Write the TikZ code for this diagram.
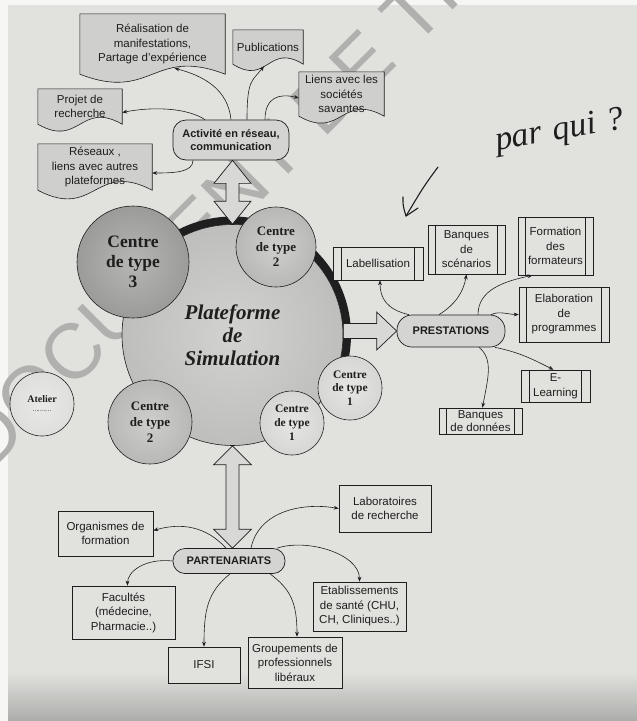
\documentclass[tikz,border=0pt]{standalone}
\usepackage{fontspec}
\setmainfont{Liberation Sans}
\newfontfamily\serifface{Liberation Serif}
\usetikzlibrary{arrows.meta,calc}
\pgfdeclarelayer{pagelayer}
\pgfdeclarelayer{shapelayer}
\pgfsetlayers{pagelayer,shapelayer,main}
\definecolor{paper}{RGB}{225,225,222}
\definecolor{docfill}{RGB}{207,207,205}
\definecolor{pillfill}{RGB}{212,212,210}
\definecolor{arrowfill}{RGB}{216,216,214}
\definecolor{ink}{RGB}{30,30,30}
\definecolor{bigin}{RGB}{210,210,208}
\definecolor{bigout}{RGB}{190,190,188}
\definecolor{cthreein}{RGB}{182,182,180}
\definecolor{cthreeout}{RGB}{155,155,153}
\definecolor{ctwoin}{RGB}{206,206,204}
\definecolor{ctwoout}{RGB}{184,184,182}
\definecolor{conein}{RGB}{230,230,228}
\definecolor{coneout}{RGB}{214,214,212}
\definecolor{atin}{RGB}{233,233,231}
\definecolor{atout}{RGB}{222,222,220}
\definecolor{wm}{RGB}{176,176,174}
\definecolor{bottomgray}{RGB}{172,172,170}
\newcommand\docshape[2]{%
  \path[docsty] (#1.north west) -- (#1.north east) -- (#1.south east)
    .. controls ($(#1.south)+(0,-#2)$) and ($(#1.south)+(0,#2)$) .. (#1.south west) -- cycle;}
\newcommand\barpair[2]{%
  \draw[draw=ink,line width=0.6pt] ([xshift=#2]#1.north west) -- ([xshift=#2]#1.south west)
    ([xshift=-#2]#1.north east) -- ([xshift=-#2]#1.south east);}
\begin{document}
\begin{tikzpicture}[x=1pt,y=-1pt,
  boxtext/.style={font=\fontsize{11.5}{14.5}\selectfont, text=ink, align=center},
  docbox/.style={boxtext, inner sep=0pt},
  rectbox/.style={boxtext, draw=ink, line width=0.6pt, fill=paper, inner sep=0pt},
  pill/.style={draw=ink, line width=0.7pt, fill=pillfill, rounded corners=13pt, inner sep=0pt,
    align=center, text=ink, font=\bfseries\fontsize{11}{13.5}\selectfont},
  circ/.style={circle, draw=ink, line width=0.6pt, inner sep=0pt, align=center, text=ink},
  conn/.style={draw=ink, line width=0.6pt, -{Stealth[length=5pt,width=3.8pt]}},
  bigarrow/.style={draw=ink, line width=0.7pt, fill=arrowfill, line join=miter},
  docsty/.style={draw=ink, line width=0.6pt, fill=docfill}
]
\useasboundingbox (0,0) rectangle (637,721);
\begin{pgfonlayer}{pagelayer}
  \fill[paper] (0,0) rectangle (637,721);
  \shade[top color=paper, bottom color=bottomgray] (0,672) rectangle (637,721);
  \fill[white!70!paper] (0,0) rectangle (8,721);
  \fill[white!70!paper] (0,0) rectangle (637,5);
  \node[rotate=45, anchor=base west, inner sep=0pt, text=wm, font=\fontsize{78}{78}\selectfont] (wmk) at (-11,474) {DOCUMENT DE TRAVAIL};
\end{pgfonlayer}

% top group
\node[docbox, minimum width=145pt, minimum height=60pt] (R) at (152.5,44) {Réalisation de\\manifestations,\\Partage d'expérience};
\node[docbox, minimum width=70pt, minimum height=34pt] (P) at (268,47) {Publications};
\node[docbox, minimum width=85pt, minimum height=44pt] (L) at (341.5,94) {Liens avec les\\sociétés\\savantes};
\node[docbox, minimum width=84pt, minimum height=35pt] (PR) at (80,106.5) {Projet de\\recherche};
\node[docbox, minimum width=114pt, minimum height=46pt] (RS) at (95,167) {Réseaux ,\\liens avec autres\\plateformes};
\node[pill, minimum width=116pt, minimum height=40pt] (A) at (231,140) {Activité en réseau,\\communication};

\begin{pgfonlayer}{shapelayer}
  \docshape{R}{28}
  \docshape{P}{22}
  \docshape{L}{24}
  \docshape{PR}{24}
  \docshape{RS}{30}
\end{pgfonlayer}

% circles
\coordinate (pc) at (232.5,335);
\draw[line width=8pt, color=black!88] (pc) ++(-138:114.5) arc[start angle=-138, end angle=28, radius=114.5];
\node[circ, minimum size=221pt, inner color=bigin, outer color=bigout,
  font=\serifface\bfseries\itshape\fontsize{21}{23}\selectfont] (plat) at (pc) {Plateforme\\de\\Simulation};
\node[circ, minimum size=112pt, inner color=cthreein, outer color=cthreeout,
  font=\serifface\bfseries\fontsize{17.5}{20}\selectfont] (c3) at (133,262) {Centre\\de type\\3};
\node[circ, minimum size=80pt, inner color=ctwoin, outer color=ctwoout,
  font=\serifface\bfseries\fontsize{13}{15.5}\selectfont] (c2a) at (276,247) {Centre\\de type\\2};
\node[circ, minimum size=84pt, inner color=ctwoin, outer color=ctwoout,
  font=\serifface\bfseries\fontsize{13}{16}\selectfont] (c2b) at (150,422) {Centre\\de type\\2};
\node[circ, minimum size=64pt, inner color=conein, outer color=coneout,
  font=\serifface\bfseries\fontsize{11.5}{14}\selectfont] (c1a) at (292,423) {Centre\\de type\\1};
\node[circ, minimum size=64pt, inner color=conein, outer color=coneout,
  font=\serifface\bfseries\fontsize{11.5}{13.5}\selectfont] (c1b) at (350,388) {Centre\\de type\\1};
\node[circ, minimum size=64pt, inner color=atin, outer color=atout,
  font=\serifface\bfseries\fontsize{10}{9}\selectfont] (at) at (42,404) {Atelier\\{\fontsize{5}{5}\selectfont .\,.\,..\,.\,.\,..\,.\,.}};

% prestations
\node[pill, minimum width=108pt, minimum height=32pt, rounded corners=15pt] (PS) at (451,331) {PRESTATIONS};
\node[rectbox, minimum width=90pt, minimum height=33pt] (LB) at (378,263.5) {Labellisation};
\node[rectbox, minimum width=77pt, minimum height=49pt] (BS) at (466.5,249.5) {Banques\\de\\scénarios};
\node[rectbox, minimum width=75pt, minimum height=58pt] (FF) at (555.5,246) {Formation\\des\\formateurs};
\node[rectbox, minimum width=90pt, minimum height=55pt] (EP) at (564,314.5) {Elaboration\\de\\programmes};
\node[rectbox, minimum width=69pt, minimum height=32pt] (EL) at (555.5,386) {E-\\Learning};
\node[rectbox, minimum width=83pt, minimum height=26pt, font=\fontsize{11.5}{12.5}\selectfont] (BD) at (480.5,421) {Banques\\de données};
\barpair{LB}{9pt}
\barpair{BS}{8pt}
\barpair{FF}{8pt}
\barpair{EP}{8pt}
\barpair{EL}{9pt}
\barpair{BD}{8pt}

% partenariats
\node[pill, minimum width=112pt, minimum height=25pt, rounded corners=12pt] (PA) at (229,561) {PARTENARIATS};
\node[rectbox, minimum width=95pt, minimum height=45pt] (OF) at (105.5,533.5) {Organismes de\\formation};
\node[rectbox, minimum width=92pt, minimum height=47pt] (LR) at (385,508.5) {Laboratoires\\de recherche};
\node[rectbox, minimum width=103pt, minimum height=53pt] (FA) at (123.5,612.5) {Facultés\\(médecine,\\Pharmacie..)};
\node[rectbox, minimum width=72pt, minimum height=36pt] (IF) at (204,665) {IFSI};
\node[rectbox, minimum width=94pt, minimum height=51pt] (GP) at (295,662.5) {Groupements de\\professionnels\\libéraux};
\node[rectbox, minimum width=93pt, minimum height=49pt] (ES) at (359.5,606.5) {Etablissements\\de santé (CHU,\\CH, Cliniques..)};

% big arrows
\coordinate (ta) at (plat.north |- A.south);
\coordinate (tb) at (plat.north);
\draw[bigarrow] (ta) -- ++(18.5,23) -- ++(-12,0) -- ($(tb)+(6.5,-23)$) -- ++(12,0) -- (tb)
  -- ++(-18.5,-23) -- ++(12,0) -- ($(ta)+(-6.5,23)$) -- ++(-12,0) -- cycle;
\coordinate (ba) at (plat.south);
\coordinate (bb) at (plat.south |- PA.north);
\draw[bigarrow] (ba) -- ++(19,19) -- ++(-12.5,0) -- ($(bb)+(6.5,-19)$) -- ++(12.5,0) -- (bb)
  -- ++(-19,-19) -- ++(12.5,0) -- ($(ba)+(-6.5,19)$) -- ++(-12.5,0) -- cycle;
\coordinate (ra) at (plat.east |- PS.west);
\draw[bigarrow] ($(ra)+(0,-7.5)$) -- ($(PS.west)+(-20,-7.5)$) -- ($(PS.west)+(-20,-19)$) -- (PS.west)
  -- ($(PS.west)+(-20,19)$) -- ($(PS.west)+(-20,7.5)$) -- ($(ra)+(0,7.5)$) -- cycle;

% connectors from A
\draw[conn] (A.north) .. controls +(-3,-30) and +(30,8) .. ([xshift=22pt,yshift=6pt]R.south);
\draw[conn] ([xshift=16pt]A.north) .. controls +(0,-40) and +(-12,15) .. ([xshift=-4pt,yshift=-2pt]P.south);
\draw[conn] ([xshift=34pt]A.north) .. controls +(0,-22) and +(-20,-5) .. ([yshift=-4pt]L.west);
\draw[conn] ([xshift=-26pt]A.north) .. controls +(-18,-12) and +(30,-6) .. ([yshift=-6pt]PR.east);
\draw[conn] ([xshift=-38pt]A.south) .. controls +(0,12) and +(22,0) .. ([yshift=-6pt]RS.east);

% connectors from PS
\draw[conn] ([xshift=-42pt]PS.north) .. controls +(-22,-5) and +(0,18) .. ([xshift=2pt]LB.south);
\draw[conn] ([xshift=-12pt]PS.north) .. controls +(16,-10) and +(-3,18) .. (BS.south);
\draw[conn] ([xshift=27pt]PS.north) .. controls +(0,-25) and +(-28,6) .. ([xshift=-23pt]FF.south);
\draw[conn] ([xshift=40pt]PS.north) .. controls +(8,-4) and +(-10,0) .. (EP.west);
\draw[conn] ([xshift=44pt]PS.south) .. controls +(25,5) and +(-20,-10) .. ([xshift=-2pt]EL.north);
\draw[conn] ([xshift=28pt]PS.south) .. controls +(15,12) and +(5,-28) .. ([xshift=2pt]BD.north);

% connectors from PA
\draw[conn] ([xshift=-3pt]PA.north) .. controls +(-20,-22) and +(28,-8) .. ([yshift=3pt]OF.east);
\draw[conn] ([xshift=22pt]PA.north) .. controls +(8,-38) and +(-35,-6) .. (LR.west);
\draw[conn] (PA.west) .. controls +(-28,-3) and +(0,-14) .. ([xshift=4pt]FA.north);
\draw[conn] ([xshift=1pt]PA.south) .. controls +(-22,18) and +(0,-38) .. (IF.north);
\draw[conn] ([xshift=41pt]PA.south) .. controls +(20,15) and +(0,-35) .. ([xshift=2pt]GP.north);
\draw[conn] ([xshift=48pt]PA.north) .. controls +(30,-10) and +(0,-28) .. (ES.north);

% handwritten note
\node[font=\serifface\itshape\fontsize{34}{34}\selectfont, text=ink, rotate=10, inner sep=0pt] (note) at (560,132) {par\,\,qui\,\,?};
\coordinate (h1) at (438,167);
\coordinate (h2) at (406,216);
\coordinate (h3) at (403,197);
\coordinate (h4) at (418,208);
\draw[ink, line width=1.1pt, line cap=round, line join=round] (h1) .. controls (424,186) .. (h2);
\draw[ink, line width=1.1pt, line cap=round, line join=round] (h3) .. controls (403,206) .. (h2) -- (h4);
\end{tikzpicture}
\end{document}
